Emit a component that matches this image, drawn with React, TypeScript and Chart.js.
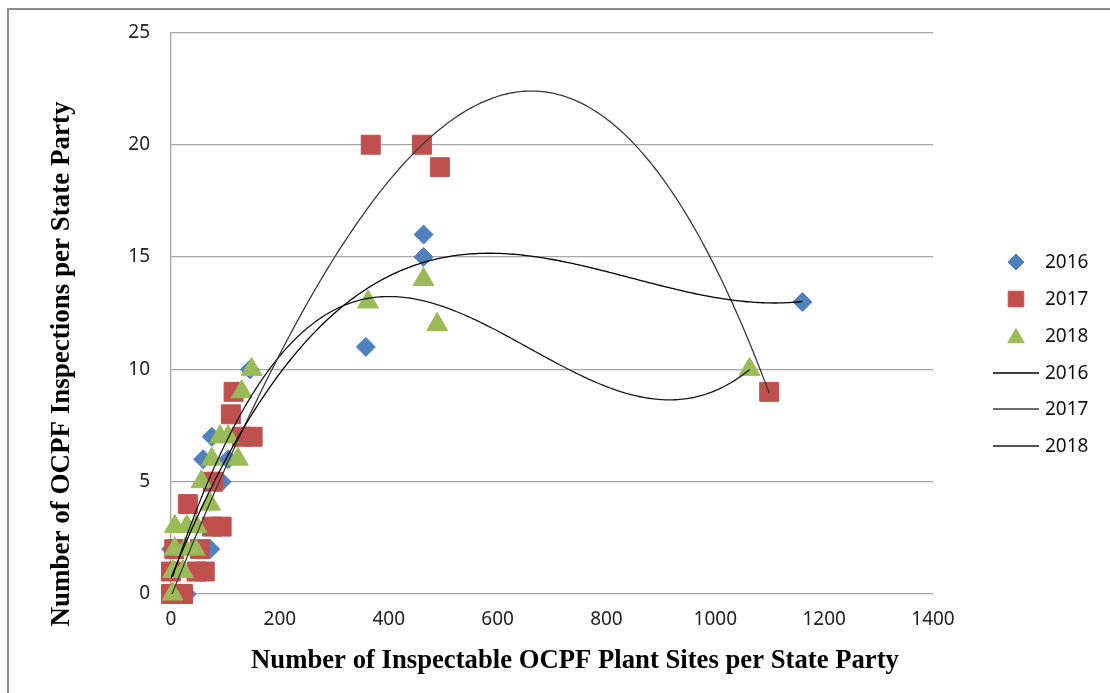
import React, { useEffect, useRef } from "react";
import { Chart, registerables } from "chart.js";
import { drawPoint } from "chart.js/helpers";

Chart.register(...registerables);

// ---- Data ----
const x2016 = [0, 29, 0, 72, 93, 59, 105, 75, 145, 358, 464, 464, 1160];
const y2016 = [0, 0, 2, 2, 5, 6, 6, 7, 10, 11, 15, 16, 13];

const x2017 = [0, 22, 0, 47, 62, 6, 53, 75, 93, 31, 77, 130, 150, 110, 115, 367, 461, 494, 1099];
const y2017 = [0, 0, 1, 1, 1, 2, 2, 3, 3, 4, 5, 7, 7, 8, 9, 20, 20, 19, 9];

const x2018 = [3, 4, 22, 7, 26, 44, 7, 29, 47, 72, 56, 75, 123, 90, 105, 130, 148, 362, 464, 489, 1063];
const y2018 = [0, 1, 1, 2, 2, 2, 3, 3, 3, 4, 5, 6, 6, 7, 7, 9, 10, 13, 14, 12, 10];

const seriesNames = ["2016", "2017", "2018"];
const xTickValues = [0, 200, 400, 600, 800, 1000, 1200, 1400];
const yTickValues = [0, 5, 10, 15, 20, 25];

const X_TITLE = "Number of Inspectable OCPF Plant Sites per State Party";
const Y_TITLE = "Number of OCPF Inspections per State Party";

const BLUE = "#4F81BD";
const RED = "#C0504D";
const GREEN = "#9BBB59";

// least-squares polynomial (order 3) trendline, like a spreadsheet trendline
function cubicFit(xs: number[], ys: number[]): number[] {
  const n = 4;
  const s = 1000;
  const A: number[][] = Array.from({ length: n }, () => Array(n + 1).fill(0));
  for (let i = 0; i < xs.length; i++) {
    const t = xs[i] / s;
    const p = [1, t, t * t, t * t * t];
    for (let r = 0; r < n; r++) {
      for (let c = 0; c < n; c++) A[r][c] += p[r] * p[c];
      A[r][n] += p[r] * ys[i];
    }
  }
  for (let col = 0; col < n; col++) {
    let piv = col;
    for (let r = col + 1; r < n; r++) if (Math.abs(A[r][col]) > Math.abs(A[piv][col])) piv = r;
    [A[col], A[piv]] = [A[piv], A[col]];
    for (let r = 0; r < n; r++) {
      if (r === col) continue;
      const f = A[r][col] / A[col][col];
      for (let c = col; c <= n; c++) A[r][c] -= f * A[col][c];
    }
  }
  return A.map((row, i) => row[n] / row[i]);
}

function trend(xs: number[], ys: number[]) {
  const c = cubicFit(xs, ys);
  const lo = Math.min(...xs);
  const hi = Math.max(...xs);
  const pts: { x: number; y: number }[] = [];
  const steps = 240;
  for (let i = 0; i <= steps; i++) {
    const x = lo + ((hi - lo) * i) / steps;
    const t = x / 1000;
    pts.push({ x, y: c[0] + c[1] * t + c[2] * t * t + c[3] * t * t * t });
  }
  return pts;
}

const toPts = (xs: number[], ys: number[]) => xs.map((x, i) => ({ x, y: ys[i] }));

const TICK_FONT = { family: "'Noto Sans', sans-serif", size: 19 };

const overlayPlugin = {
  id: "overlay",
  afterDraw(chart: any) {
    const ctx: CanvasRenderingContext2D = chart.ctx;
    ctx.save();
    // outer frame
    ctx.strokeStyle = "#8c8c8c";
    ctx.lineWidth = 2;
    ctx.beginPath();
    ctx.moveTo(8, 720);
    ctx.lineTo(8, 9);
    ctx.lineTo(1130, 9);
    ctx.stroke();

    // axis titles
    ctx.fillStyle = "#000";
    ctx.textAlign = "center";
    ctx.textBaseline = "middle";
    ctx.font = "bold 26.7px 'Liberation Serif', serif";
    ctx.fillText(X_TITLE, 575, 661);
    ctx.save();
    ctx.font = "bold 27px 'Liberation Serif', serif";
    ctx.translate(62, 364);
    ctx.rotate(-Math.PI / 2);
    ctx.fillText(Y_TITLE, 0, 0);
    ctx.restore();

    // legend
    const items = chart.data.datasets;
    const ys = [262, 299, 336, 373, 409, 446];
    ctx.font = "19px 'Noto Sans', sans-serif";
    ctx.textAlign = "left";
    items.forEach((ds: any, i: number) => {
      const y = ys[i];
      if (ds.showLine) {
        ctx.strokeStyle = ds.borderColor;
        ctx.lineWidth = 1.3;
        ctx.beginPath();
        ctx.moveTo(993, y);
        ctx.lineTo(1039, y);
        ctx.stroke();
      } else {
        const r = ds.pointStyle === "rect" ? 11 : ds.pointStyle === "triangle" ? 9.5 : 8;
        ctx.fillStyle = ds.backgroundColor;
        ctx.strokeStyle = ds.borderColor;
        ctx.lineWidth = 1;
        drawPoint(ctx, { pointStyle: ds.pointStyle, radius: r, borderWidth: 1, rotation: 0 }, 1016, ds.pointStyle === "triangle" ? y + 2 : y);
      }
      ctx.fillStyle = "#111";
      ctx.fillText(ds.label, 1045, y + 1);
    });
    ctx.restore();
  },
};

export default function App() {
  const ref = useRef<HTMLCanvasElement | null>(null);

  useEffect(() => {
    if (!ref.current) return;
    const markerBase = { showLine: false, borderWidth: 1, clip: false as any };
    const chart = new Chart(ref.current, {
      type: "scatter",
      data: {
        datasets: [
          { ...markerBase, label: seriesNames[0], data: toPts(x2016, y2016), pointStyle: "rectRot", pointRadius: 9.5, backgroundColor: BLUE, borderColor: BLUE, order: 3 },
          { ...markerBase, label: seriesNames[1], data: toPts(x2017, y2017), pointStyle: "rect", pointRadius: 13.4, backgroundColor: RED, borderColor: RED, order: 2 },
          { ...markerBase, label: seriesNames[2], data: toPts(x2018, y2018), pointStyle: "triangle", pointRadius: 12, backgroundColor: GREEN, borderColor: GREEN, order: 1 },
          { label: seriesNames[0], data: trend(x2016, y2016), showLine: true, pointRadius: 0, borderColor: "#000000", borderWidth: 1.3, backgroundColor: "#000", order: 0 },
          { label: seriesNames[1], data: trend(x2017, y2017), showLine: true, pointRadius: 0, borderColor: "#3a3a3a", borderWidth: 1.3, backgroundColor: "#3a3a3a", order: 0 },
          { label: seriesNames[2], data: trend(x2018, y2018), showLine: true, pointRadius: 0, borderColor: "#1a1a1a", borderWidth: 1.3, backgroundColor: "#1a1a1a", order: 0 },
        ] as any,
      },
      options: {
        animation: false,
        responsive: true,
        maintainAspectRatio: false,
        layout: { padding: { left: 0, right: 177, top: 32, bottom: 0 } },
        plugins: { legend: { display: false }, tooltip: { enabled: false } },
        scales: {
          x: {
            type: "linear",
            min: xTickValues[0],
            max: xTickValues[xTickValues.length - 1],
            afterBuildTicks: (s: any) => { s.ticks = xTickValues.map((v) => ({ value: v })); },
            afterFit: (s: any) => { s.height = 99; },
            ticks: { font: TICK_FONT, color: "#222", padding: 14, maxRotation: 0, callback: (v: any) => String(v) },
            grid: { display: false, drawTicks: false },
            border: { display: false },
          },
          y: {
            type: "linear",
            min: yTickValues[0],
            max: yTickValues[yTickValues.length - 1],
            afterBuildTicks: (s: any) => { s.ticks = yTickValues.map((v) => ({ value: v })); },
            afterFit: (s: any) => { s.width = 171; },
            ticks: { font: TICK_FONT, color: "#222", padding: 21, callback: (v: any) => String(v) },
            grid: { color: "#a6a6a6", lineWidth: 1.3, drawTicks: false },
            border: { color: "#a6a6a6", width: 1.3 },
          },
        },
      } as any,
      plugins: [overlayPlugin],
    });
    return () => chart.destroy();
  }, []);

  return (
    <div style={{ position: "fixed", left: 0, top: 0, width: 1110, height: 693, background: "#fff" }}>
      <canvas ref={ref} />
    </div>
  );
}
